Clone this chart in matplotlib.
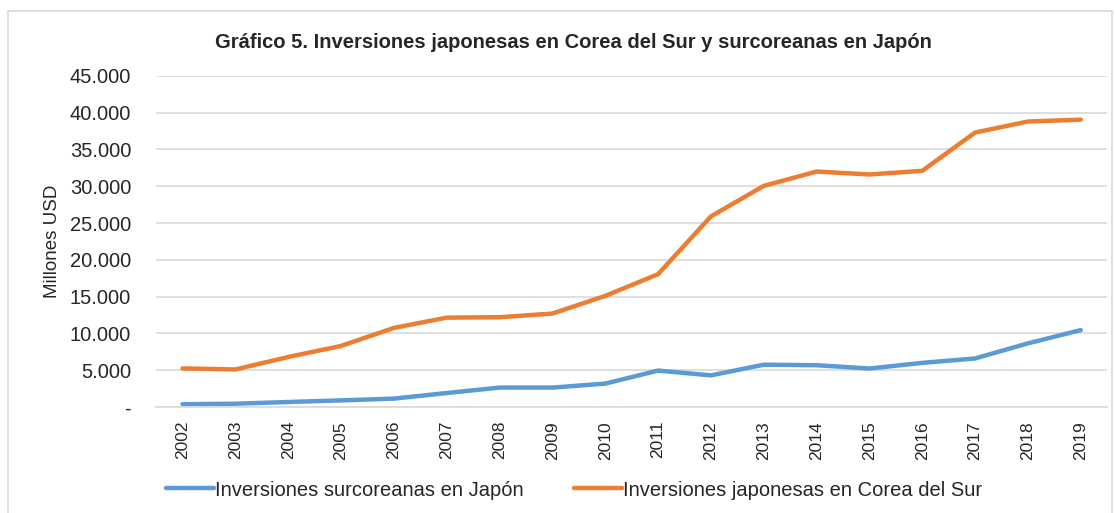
'''
Line chart of Japanese and South Korean
investment stocks, 2002-2019
'''

#########################################

import numpy as np
import matplotlib
matplotlib.use("Agg")
import matplotlib.pyplot as plt
from matplotlib.ticker import FuncFormatter
from matplotlib.patches import Rectangle

#########################################

years = [2002, 2003, 2004, 2005, 2006, 2007, 2008, 2009, 2010,
         2011, 2012, 2013, 2014, 2015, 2016, 2017, 2018, 2019]

# millones USD
surcoreanas = [380, 450, 680, 900, 1140, 1900, 2640, 2640, 3180,
               4950, 4300, 5750, 5680, 5230, 6000, 6600, 8650, 10450]
japonesas = [5250, 5100, 6800, 8300, 10750, 12150, 12200, 12700, 15100,
             18050, 25900, 30050, 32000, 31600, 32100, 37300, 38800, 39050]

yTicks = [0, 5000, 10000, 15000, 20000, 25000, 30000, 35000, 40000, 45000]

title = "Gráfico 5. Inversiones japonesas en Corea del Sur y surcoreanas en Japón"
labelBlue = "Inversiones surcoreanas en Japón"
labelOrange = "Inversiones japonesas en Corea del Sur"

#########################################

def fmtMiles(v, pos):
  '''Excel style thousands with a dot, zero as a dash'''
  if v == 0:
    return "-"
  return "{:,.0f}".format(v).replace(",", ".")


def makePlot(outName):
  '''Draw the chart'''
  plt.rcParams['font.family'] = ['Liberation Sans', 'DejaVu Sans']

  fig = plt.figure(figsize=(11.15, 5.13), dpi=100)
  ax = fig.add_axes([0.140, 0.2066, 0.853, 0.6455])

  # grey frame round the chart area
  fig.patches.append(Rectangle((8/1115, -0.01), 1104/1115, 1-11/513+0.01,
                               transform=fig.transFigure, fill=False,
                               edgecolor="#d9d9d9", linewidth=1.2))

  x = np.arange(len(years))
  ax.plot(x, surcoreanas, color="#5b9bd5", linewidth=3.2, solid_capstyle="round",
          label=labelBlue)
  ax.plot(x, japonesas, color="#ed7d31", linewidth=3.2, solid_capstyle="round",
          label=labelOrange)

  ax.set_xlim(-0.5, len(years)-0.5)
  ax.set_ylim(0, 45000)
  ax.set_yticks(yTicks)
  ax.yaxis.set_major_formatter(FuncFormatter(fmtMiles))
  ax.set_xticks(x)
  ax.set_xticklabels([str(y) for y in years], rotation=90)

  ax.grid(axis="y", color="#d9d9d9", linewidth=1.2)
  ax.set_axisbelow(True)
  for s in ["top", "right", "left"]:
    ax.spines[s].set_visible(False)
  ax.spines["bottom"].set_color("#d9d9d9")
  ax.spines["bottom"].set_linewidth(1.2)

  ax.tick_params(axis="y", length=0, pad=18, labelsize=14.5, colors="#262626")
  ax.tick_params(axis="x", length=0, pad=10, labelsize=12.5, colors="#262626")

  ax.set_ylabel("Millones USD", fontsize=13.5, color="#262626", labelpad=6)
  fig.text(573/1115, 1-42/513, title, ha="center", va="center",
           fontsize=14.5, fontweight="bold", color="#262626")

  fig.legend(loc="center", bbox_to_anchor=(574/1115, 1-490/513), ncol=2,
             frameon=False, fontsize=14.5, handlelength=2.4, handletextpad=0.05,
             columnspacing=2.5, labelcolor="#262626")

  fig.savefig(outName, dpi=100)
  plt.close(fig)
  print("Graph to", outName)
  return

#########################################

if __name__ == '__main__':
  makePlot("out.png")
